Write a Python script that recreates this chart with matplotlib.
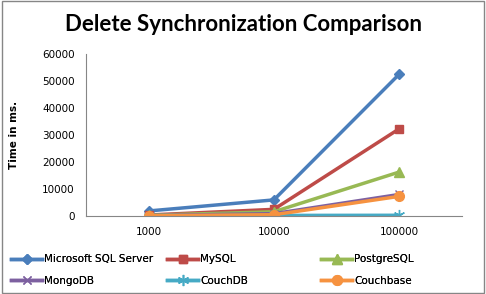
import matplotlib
matplotlib.use('Agg')
import matplotlib.pyplot as plt
from matplotlib.patches import Rectangle

categories = ['1000', '10000', '100000']
mssql = [1900, 6000, 52500]
mysql = [400, 2500, 32300]
postgres = [300, 1600, 16300]
mongodb = [200, 900, 8000]
couchdb = [150, 250, 300]
couchbase = [150, 500, 7300]

series = [
    ('Microsoft SQL Server', mssql, '#4A7EBB', 'D', 5),
    ('MySQL', mysql, '#BE4B48', 's', 6),
    ('PostgreSQL', postgres, '#98B954', '^', 7),
    ('MongoDB', mongodb, '#7D60A0', 'x', 6),
    ('CouchDB', couchdb, '#46AAC5', (6, 2, 0), 8),
    ('Couchbase', couchbase, '#F69240', 'o', 7),
]

fig = plt.figure(figsize=(4.86, 2.94), dpi=100)
ax = fig.add_axes([0.177, 0.265, 0.773, 0.551])

x = range(len(categories))
handles = []
for name, vals, col, mk, ms in series:
    h, = ax.plot(x, vals, color=col, linewidth=2.5, marker=mk, markersize=ms,
                 markeredgecolor=col, markerfacecolor=col, label=name)
    handles.append(h)

ax.set_xlim(-0.5, 2.5)
ax.set_ylim(0, 60000)
ax.set_yticks(range(0, 60001, 10000))
ax.set_xticks(list(x))
ax.set_xticklabels(categories)
ax.tick_params(length=0, labelsize=7.5, pad=8, colors='black')
for s in ['top', 'right']:
    ax.spines[s].set_visible(False)
for s in ['left', 'bottom']:
    ax.spines[s].set_color('#868686')

ax.set_ylabel('Time in ms.', fontsize=7.5, fontweight='bold', labelpad=17)
fig.text(0.5, 0.915, 'Delete Synchronization Comparison', ha='center', va='center',
         fontsize=16, fontweight='bold', family='Lato')

# legend: three equally spaced columns, two rows each (row-major order)
col_x = [0.012, 0.333, 0.65]
for c in range(3):
    pair = [handles[c], handles[c + 3]]
    leg = fig.legend(pair, [h.get_label() for h in pair], loc='lower left',
                     bbox_to_anchor=(col_x[c], 0.01), frameon=False, fontsize=7.5,
                     handlelength=3, labelspacing=1.1, handletextpad=0.2,
                     borderaxespad=0.2, borderpad=0.3)
    fig.add_artist(leg)

fig.patches.append(Rectangle((0.004, 0.004), 0.992, 0.992, transform=fig.transFigure,
                             fill=False, edgecolor='#868686', linewidth=1))

fig.savefig('out.png', dpi=100)
